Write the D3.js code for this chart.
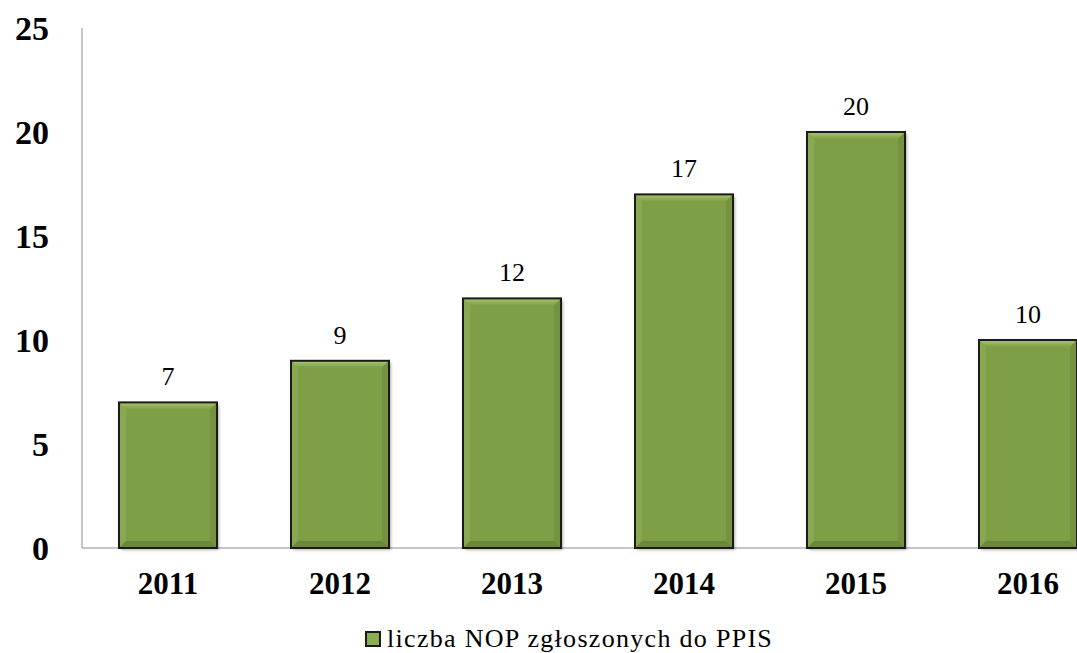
<!DOCTYPE html>
<html><head><meta charset="utf-8">
<script src="https://cdn.jsdelivr.net/npm/d3@7"></script>
<style>body{margin:0;background:#fff}svg{display:block}text{font-family:"Liberation Serif","DejaVu Serif",serif}</style>
</head><body>
<svg id="c" width="1077" height="653"></svg>
<script>
const categories = ["2011","2012","2013","2014","2015","2016"];
const values = [7, 9, 12, 17, 20, 10];
const yTicks = [0, 5, 10, 15, 20, 25];
const seriesName = "liczba NOP zgłoszonych do PPIS";

(function(){
const svg = d3.select("#c");
const pL = 82, pR = 1114, pT = 28, pB = 548;
const x = d3.scaleBand().domain(categories).range([pL, pR]).paddingInner(0.43).paddingOuter(0.215);
const y = d3.scaleLinear().domain([0, 25]).range([pB, pT]);

const defs = svg.append("defs");
const f = defs.append("filter").attr("id","sh").attr("x","-10%").attr("y","-10%").attr("width","130%").attr("height","130%");
f.append("feDropShadow").attr("dx",2).attr("dy",2).attr("stdDeviation",1.5).attr("flood-color","#000").attr("flood-opacity",0.3);
const lgd = defs.append("linearGradient").attr("id","lg").attr("x1",0).attr("y1",0).attr("x2",0).attr("y2",1);
lgd.append("stop").attr("offset","0%").attr("stop-color","#a9c96c");
lgd.append("stop").attr("offset","100%").attr("stop-color","#7f9f46");

svg.append("line").attr("x1",pL).attr("x2",pL).attr("y1",pT).attr("y2",pB).attr("stroke","#8c8c8c").attr("stroke-width",1);
svg.append("line").attr("x1",pL).attr("x2",1077).attr("y1",pB).attr("y2",pB).attr("stroke","#8c8c8c").attr("stroke-width",1);

svg.append("g").selectAll("text").data(yTicks).join("text")
  .attr("x", 49).attr("y", d => y(d) + 12).attr("text-anchor","end")
  .attr("font-weight","bold").attr("font-size",34).attr("fill","#000")
  .text(d => d);

svg.append("g").selectAll("text").data(categories).join("text")
  .attr("x", d => x(d) + x.bandwidth()/2).attr("y", 594).attr("text-anchor","middle")
  .attr("font-weight","bold").attr("font-size",31).attr("fill","#000")
  .text(d => d);

const bw = x.bandwidth();
const g = svg.append("g").selectAll("g").data(categories.map((c,i)=>({c, v: values[i]}))).join("g");
g.append("rect").attr("x", d => x(d.c)).attr("y", d => y(d.v)).attr("width", bw).attr("height", d => pB - y(d.v))
  .attr("fill","#7f9f46").attr("filter","url(#sh)");
const bv = 7;
g.append("path").attr("fill","url(#lg)").attr("d", d => {
  const x0 = x(d.c), x1 = x0 + bw, y0 = y(d.v);
  return `M${x0},${y0}L${x1},${y0}L${x1-bv},${y0+bv}L${x0+bv},${y0+bv}Z`; });
g.append("path").attr("fill","#88a94f").attr("d", d => {
  const x0 = x(d.c), y0 = y(d.v);
  return `M${x0},${y0}L${x0+bv},${y0+bv}L${x0+bv},${pB-bv}L${x0},${pB}Z`; });
g.append("path").attr("fill","#74923f").attr("d", d => {
  const x0 = x(d.c), x1 = x0 + bw, y0 = y(d.v);
  return `M${x1},${y0}L${x1},${pB}L${x1-bv},${pB-bv}L${x1-bv},${y0+bv}Z`; });
g.append("path").attr("fill","#6b873b").attr("d", d => {
  const x0 = x(d.c), x1 = x0 + bw;
  return `M${x0},${pB}L${x1},${pB}L${x1-bv},${pB-bv}L${x0+bv},${pB-bv}Z`; });
g.append("rect").attr("x", d => x(d.c)).attr("y", d => y(d.v)).attr("width", bw).attr("height", d => pB - y(d.v))
  .attr("fill","none").attr("stroke","#1a1a1a").attr("stroke-width",2);

g.append("text").attr("x", d => x(d.c) + bw/2).attr("y", d => y(d.v) - 17).attr("text-anchor","middle")
  .attr("font-size",26).attr("fill","#000").text(d => d.v);

const lgG = svg.append("g");
lgG.append("rect").attr("x",366).attr("y",632).attr("width",14).attr("height",14).attr("fill","#8cae52").attr("stroke","#1a1a1a").attr("stroke-width",2);
lgG.append("text").attr("x",387).attr("y",647).attr("font-size",26).attr("letter-spacing",1.3).attr("fill","#000").text(seriesName);
})();
</script>
</body></html>
